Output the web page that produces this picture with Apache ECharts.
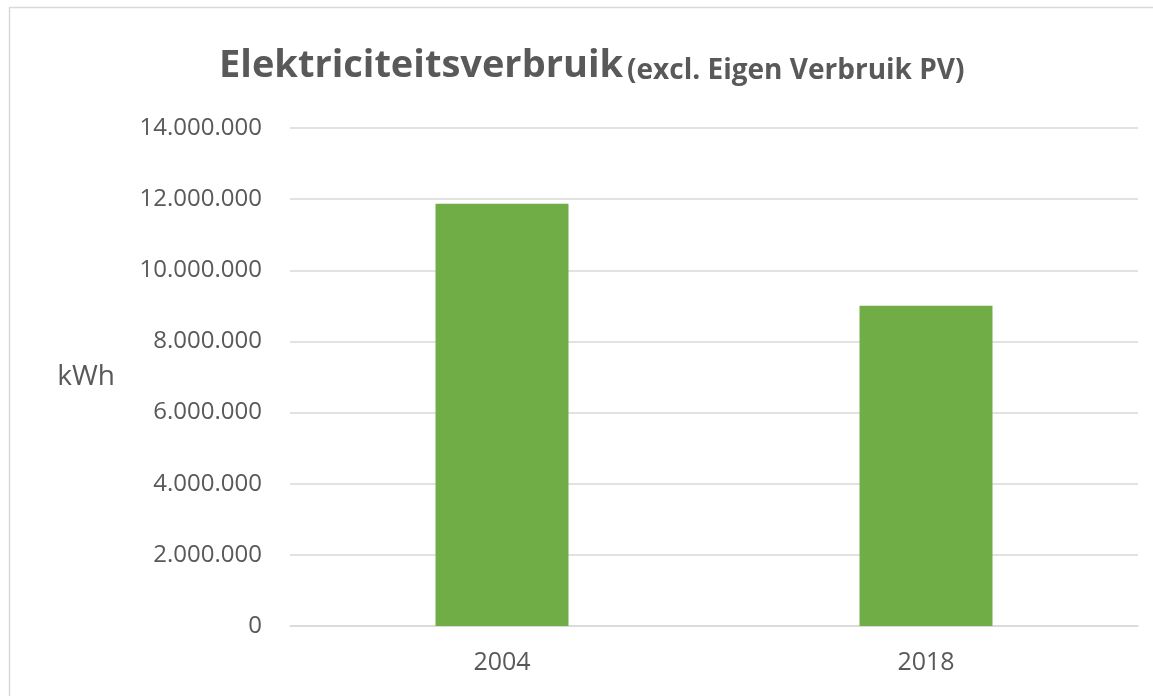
<!DOCTYPE html>
<html>
<head>
<meta charset="utf-8">
<script src="https://cdn.jsdelivr.net/npm/echarts@6/dist/echarts.min.js"></script>
<style>
  html, body { margin: 0; padding: 0; background: #fff; }
  #main { width: 1153px; height: 696px; }
</style>
</head>
<body>
<div id="main"></div>
<script>
// data
var years = ["2004", "2018"];
var verbruik = [11870000, 9000000];
var yMin = 0;
var yMax = 14000000;
var yStep = 2000000;

var grey = "#595959";

function dots(v) {
  return String(v).replace(/\B(?=(\d{3})+(?!\d))/g, ".");
}

var myChart = echarts.init(document.getElementById("main"));

myChart.setOption({
  animation: false,
  textStyle: { fontFamily: "Open Sans" },
  title: {
    text: "{a|Elektriciteitsverbruik}{b|(excl. Eigen Verbruik PV)}",
    left: 214,
    top: 30,
    textStyle: {
      rich: {
        a: { fontFamily: "Open Sans", fontWeight: "bold", fontSize: 38, color: grey, verticalAlign: "bottom", lineHeight: 50 },
        b: { fontFamily: "Open Sans", fontWeight: "bold", fontSize: 28, color: grey, verticalAlign: "bottom", lineHeight: 47, padding: [0, 0, 0, 4] }
      }
    }
  },
  // rand om de grafiek
  graphic: [
    {
      type: "rect",
      shape: { x: 9.5, y: 7.5, width: 1160, height: 700 },
      style: { fill: "none", stroke: "#d9d9d9", lineWidth: 1.5 },
      silent: true
    }
  ],
  grid: { left: 290, right: 15, top: 128, bottom: 70 },
  xAxis: {
    type: "category",
    data: years,
    axisLine: { lineStyle: { color: "#d9d9d9", width: 1.5 } },
    axisTick: { show: false },
    axisLabel: { color: grey, fontSize: 25, margin: 24 }
  },
  yAxis: {
    type: "value",
    min: yMin,
    max: yMax,
    interval: yStep,
    name: "kWh",
    nameLocation: "middle",
    nameRotate: 0,
    nameGap: 175,
    nameTextStyle: { color: grey, fontSize: 28, padding: [10, 0, 0, 0] },
    axisLine: { show: false },
    axisTick: { show: false },
    splitLine: { lineStyle: { color: "#d9d9d9", width: 1.5 } },
    axisLabel: { color: grey, fontSize: 24, margin: 28, formatter: dots }
  },
  series: [
    {
      type: "bar",
      data: verbruik,
      barWidth: 133,
      itemStyle: { color: "#70ad47" }
    }
  ]
});
</script>
</body>
</html>
